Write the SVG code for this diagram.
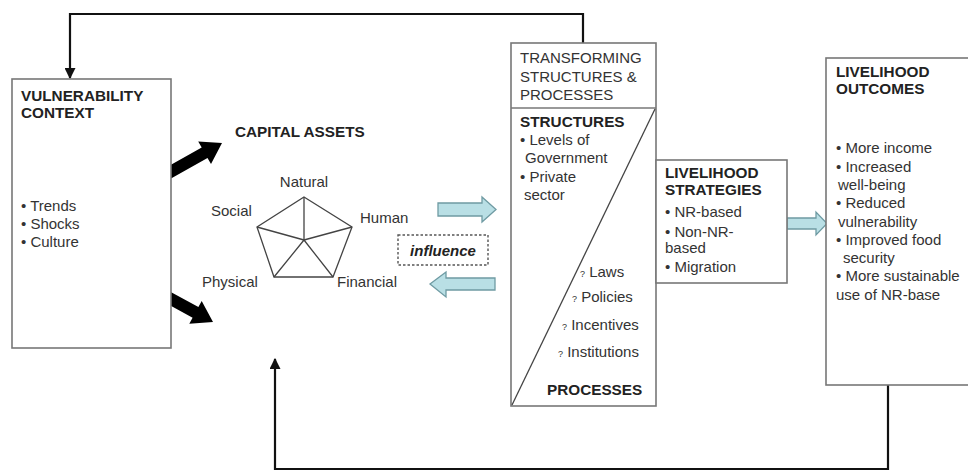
<svg xmlns="http://www.w3.org/2000/svg" width="968" height="471" viewBox="0 0 968 471">
<defs>
<style>
text{font-family:"Liberation Sans",Arial,sans-serif;font-size:15px;fill:#333}
.b{font-weight:bold;fill:#222;font-size:15.3px}
.box{fill:#fff;stroke:#777;stroke-width:1.6}
.ln{fill:none;stroke:#111;stroke-width:2.2}
.blk{fill:#000}
.blue{fill:#b9dfe5;stroke:#6f9ba3;stroke-width:1.3}
.thin{fill:none;stroke:#444;stroke-width:1.3}
.sm{font-size:9px}
</style>
<marker id="ah" viewBox="0 0 10 10" refX="9" refY="5" markerWidth="5" markerHeight="5" orient="auto"><path d="M0,0 L10,5 L0,10 z" fill="#111"/></marker>
</defs>
<rect width="968" height="471" fill="#fff"/>

<g id="connectors">
<polyline class="ln" points="583,43 583,14 70,14 70,78" marker-end="url(#ah)"/>
<polyline class="ln" points="888,385 888,469 275,469 275,359" marker-end="url(#ah)"/>
<polygon class="blk" points="162.1,169.8 201.7,147.6 198.2,141.5 222,143 211,164.1 207.5,158 167.9,180.2"/>
<polygon class="blk" points="162.9,287.7 198.4,307.1 201.7,301 213,322 189.3,323.8 192.6,317.7 157.1,298.3"/>
<polygon class="blue" points="438,203 482,203 482,197 496,209.5 482,222 482,216 438,216"/>
<polygon class="blue" points="495,278 446,278 446,272 430,284 446,297 446,290 495,290"/>
<polygon class="blue" points="787,218 816,218 816,212 827,223.5 816,235 816,229 787,229"/>
</g>

<g id="vulnerability">
<rect class="box" x="12" y="79" width="159" height="269"/>
<text class="b" x="21" y="101">VULNERABILITY</text>
<text class="b" x="21" y="118">CONTEXT</text>
<text x="21" y="211">• Trends</text>
<text x="21" y="229">• Shocks</text>
<text x="21" y="247">• Culture</text>
</g>

<g id="capital-assets">
<text class="b" x="235" y="137">CAPITAL ASSETS</text>
<polygon class="thin" points="304,197 352,227 333,277 274,277 257,227"/>
<path class="thin" d="M304,240 L304,197 M304,240 L352,227 M304,240 L333,277 M304,240 L274,277 M304,240 L257,227"/>
<text x="304" y="187" text-anchor="middle">Natural</text>
<text x="211" y="216">Social</text>
<text x="360" y="223">Human</text>
<text x="202" y="287">Physical</text>
<text x="337" y="287">Financial</text>
</g>

<g id="influence">
<rect x="398" y="235" width="90" height="30" fill="#fff" stroke="#555" stroke-width="1.4" stroke-dasharray="2.5,2"/>
<text x="443" y="256" text-anchor="middle" style="font-weight:bold;font-style:italic;fill:#222">influence</text>
</g>

<g id="transforming">
<rect class="box" x="511" y="43" width="145" height="363"/>
<line x1="511" y1="108" x2="656" y2="108" stroke="#777" stroke-width="1.6"/>
<line x1="655" y1="109" x2="512" y2="405" stroke="#444" stroke-width="1.3"/>
<text x="520" y="63">TRANSFORMING</text>
<text x="520" y="82">STRUCTURES &amp;</text>
<text x="520" y="100">PROCESSES</text>
<text class="b" x="520" y="127">STRUCTURES</text>
<text x="520" y="145">• Levels of</text>
<text x="525" y="163">Government</text>
<text x="520" y="182">• Private</text>
<text x="524" y="200">sector</text>
<text x="580" y="277"><tspan class="sm">?</tspan> Laws</text>
<text x="572" y="302"><tspan class="sm">?</tspan> Policies</text>
<text x="562" y="330"><tspan class="sm">?</tspan> Incentives</text>
<text x="558" y="357"><tspan class="sm">?</tspan> Institutions</text>
<text class="b" x="547" y="395">PROCESSES</text>
</g>

<g id="strategies">
<rect class="box" x="656" y="160" width="131" height="123"/>
<text class="b" x="665" y="178">LIVELIHOOD</text>
<text class="b" x="665" y="195">STRATEGIES</text>
<text x="665" y="217">• NR-based</text>
<text x="665" y="237">• Non-NR-</text>
<text x="665" y="253">based</text>
<text x="665" y="272">• Migration</text>
</g>

<g id="outcomes">
<rect class="box" x="826" y="58" width="150" height="327"/>
<text class="b" x="836" y="77">LIVELIHOOD</text>
<text class="b" x="836" y="94">OUTCOMES</text>
<text x="836" y="153">• More income</text>
<text x="836" y="172">• Increased</text>
<text x="838" y="190">well-being</text>
<text x="836" y="208">• Reduced</text>
<text x="838" y="227">vulnerability</text>
<text x="836" y="245">• Improved food</text>
<text x="843" y="263">security</text>
<text x="836" y="281">• More sustainable</text>
<text x="836" y="300">use of NR-base</text>
</g>
</svg>
